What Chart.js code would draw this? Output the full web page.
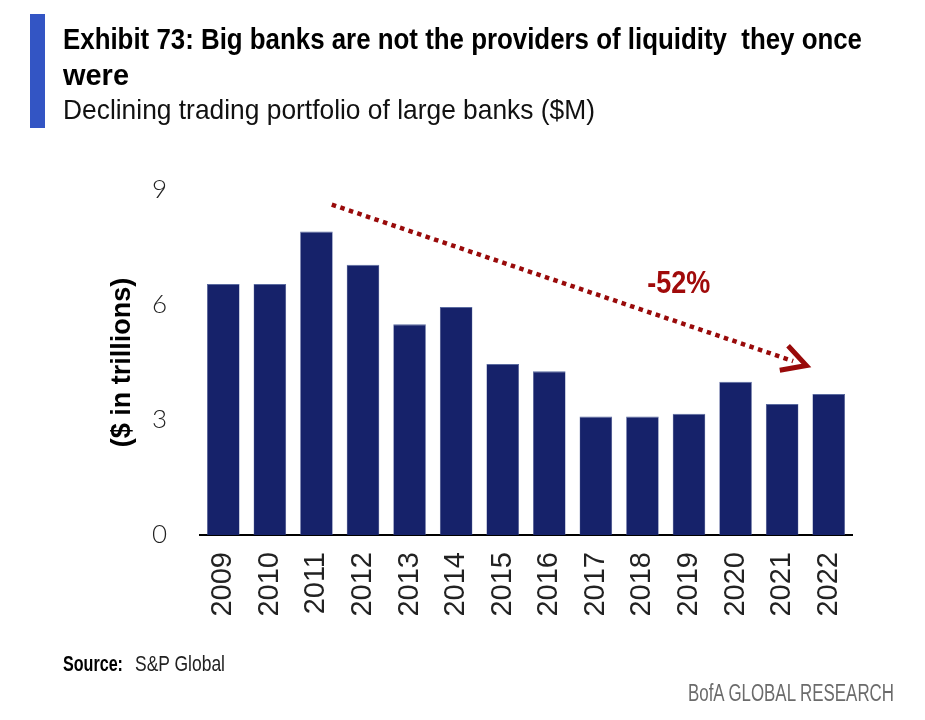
<!DOCTYPE html>
<html>
<head>
<meta charset="utf-8">
<script src="https://cdn.jsdelivr.net/npm/chart.js@4"></script>
<style>
  html, body { margin: 0; padding: 0; background: #fff; }
  #page { position: relative; width: 925px; height: 720px; overflow: hidden; }
  #chart-box { position: absolute; left: 0; top: 0; width: 925px; height: 720px; }
  .txt { position: absolute; white-space: nowrap; color: #000; line-height: 1;
         font-family: "Liberation Sans", Arial, sans-serif; }
  .fit { display: inline-block; transform-origin: 0 0; }
  #bluebar { position: absolute; left: 30px; top: 14px; width: 15px; height: 114px; background: #3355c4; }
  #title1 { left: 63px; top: 23.6px; font-size: 30px; font-weight: bold; }
  #title2 { left: 63px; top: 59.6px; font-size: 30px; font-weight: bold; }
  #subtitle { left: 63px; top: 96.3px; font-size: 28px; color: #111; }
  #source-lbl { left: 63px; top: 653.4px; font-size: 22px; font-weight: bold; }
  #source-txt { left: 135px; top: 653.4px; font-size: 22px; color: #222; }
  #brand { left: 688px; top: 682.2px; font-size: 23px; color: #6b6b6b; }
</style>
</head>
<body>
<div id="page">
  <div id="bluebar"></div>
  <div id="chart-box"><canvas id="trading-chart"></canvas></div>
  <div class="txt" id="title1"><span class="fit" data-w="799">Exhibit 73: Big banks are not the providers of liquidity&nbsp; they once</span></div>
  <div class="txt" id="title2"><span class="fit" data-w="66">were</span></div>
  <div class="txt" id="subtitle"><span class="fit" data-w="532">Declining trading portfolio of large banks ($M)</span></div>
  <div class="txt" id="source-lbl"><span class="fit" data-w="60">Source:</span></div>
  <div class="txt" id="source-txt"><span class="fit" data-w="90">S&amp;P Global</span></div>
  <div class="txt" id="brand"><span class="fit" data-w="206">BofA GLOBAL RESEARCH</span></div>
</div>
<script>
// years on the x axis
const years = ['2009', '2010', '2011', '2012', '2013', '2014', '2015', '2016', '2017', '2018', '2019', '2020', '2021', '2022'];
// trading portfolio, $ trillions
const portfolio = [6.55, 6.55, 7.92, 7.05, 5.5, 5.95, 4.46, 4.27, 3.09, 3.09, 3.16, 4.0, 3.42, 3.68];
const yTicks = [0, 3, 6, 9];

// trend arrow, in chart units: [category index, value]
const arrowFrom = [2.33, 8.62];
const arrowTo = [12.52, 4.42];
const arrowLabel = '-52%';
const labelAt = [9.78, 6.55];

const sans = '"Liberation Sans", Arial, sans-serif';

const trendArrow = {
  id: 'trendArrow',
  afterDatasetsDraw(chart) {
    const { ctx, scales: { x, y } } = chart;
    const x0 = x.getPixelForValue(arrowFrom[0]), y0 = y.getPixelForValue(arrowFrom[1]);
    const x1 = x.getPixelForValue(arrowTo[0]), y1 = y.getPixelForValue(arrowTo[1]);
    const ang = Math.atan2(y1 - y0, x1 - x0);
    ctx.save();
    ctx.strokeStyle = '#990a0a';
    ctx.lineWidth = 4.5;
    ctx.setLineDash([4.5, 4.5]);
    ctx.beginPath();
    ctx.moveTo(x0, y0);
    ctx.lineTo(x1 - 14 * Math.cos(ang), y1 - 14 * Math.sin(ang));
    ctx.stroke();
    // open chevron head
    ctx.setLineDash([]);
    ctx.lineWidth = 5;
    const len = 27, spread = 0.5;
    ctx.beginPath();
    ctx.moveTo(x1 - len * Math.cos(ang - spread), y1 - len * Math.sin(ang - spread));
    ctx.lineTo(x1, y1);
    ctx.lineTo(x1 - len * Math.cos(ang + spread), y1 - len * Math.sin(ang + spread));
    ctx.stroke();
    // label, squeezed to the narrow look of the original
    ctx.fillStyle = '#a00a0a';
    ctx.font = 'bold 32px ' + sans;
    ctx.textAlign = 'center';
    ctx.textBaseline = 'middle';
    const w = ctx.measureText(arrowLabel).width;
    ctx.translate(x.getPixelForValue(labelAt[0]), y.getPixelForValue(labelAt[1]));
    ctx.scale(63 / w, 1);
    ctx.fillText(arrowLabel, 0, 0);
    ctx.restore();
  }
};

document.addEventListener('DOMContentLoaded', () => {
  // condensed fonts are not installed, so squeeze the header/footer text to width
  document.querySelectorAll('.fit').forEach(el => {
    const w = el.getBoundingClientRect().width;
    el.style.transform = 'scaleX(' + (Number(el.dataset.w) / w) + ')';
  });

  const ctx = document.getElementById('trading-chart').getContext('2d');
  new Chart(ctx, {
    type: 'bar',
    data: {
      labels: years,
      datasets: [{
        data: portfolio,
        backgroundColor: '#16226a',
        borderColor: '#5a6aa0',
        borderWidth: { top: 1, left: 0.5, right: 0.5, bottom: 0 },
        categoryPercentage: 1,
        barPercentage: 0.7
      }]
    },
    options: {
      responsive: true,
      maintainAspectRatio: false,
      animation: false,
      layout: { padding: { left: 0, right: 73, top: 190, bottom: 100 } },
      plugins: { legend: { display: false }, tooltip: { enabled: false } },
      scales: {
        x: {
          grid: { display: false, drawTicks: false },
          border: { display: true, color: '#000', width: 2 },
          ticks: {
            color: '#222',
            font: { family: sans, size: 29 },
            minRotation: 90,
            maxRotation: 90,
            padding: 17
          },
          afterFit(scale) { scale.height = 85; }
        },
        y: {
          min: 0,
          max: 9,
          grid: { display: false, drawTicks: false },
          border: { display: false },
          afterBuildTicks(scale) { scale.ticks = yTicks.map(v => ({ value: v })); },
          ticks: {
            color: '#222',
            font: { family: 'Lato, "Open Sans", sans-serif', size: 26, weight: 300 },
            padding: 33
          },
          title: {
            display: true,
            text: '($ in trillions)',
            color: '#000',
            font: { family: sans, size: 27, weight: 'bold' },
            padding: { top: 106, bottom: 0 }
          },
          afterFit(scale) { scale.width = 200; }
        }
      }
    },
    plugins: [trendArrow]
  });
});
</script>
</body>
</html>
